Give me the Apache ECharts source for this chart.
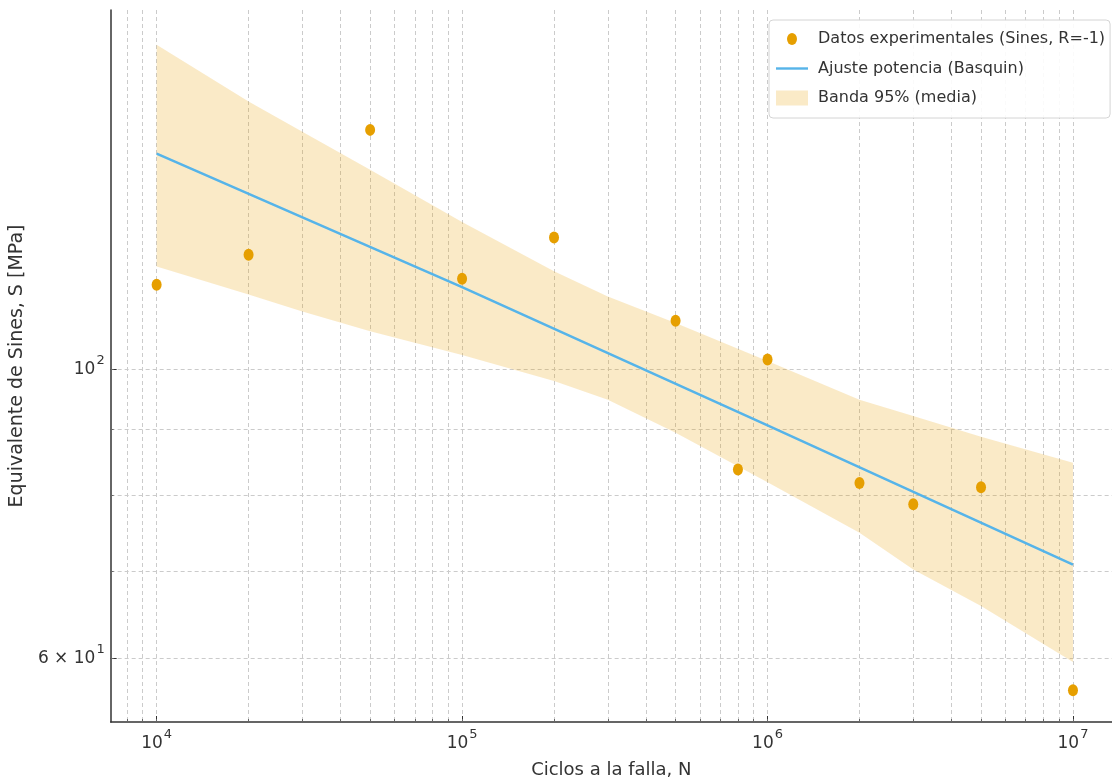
<!DOCTYPE html>
<html>
<head>
<meta charset="utf-8">
<script src="https://cdn.jsdelivr.net/npm/echarts@6/dist/echarts.min.js"></script>
<style>
  html, body { margin: 0; padding: 0; background: #fff; }
  #chart { width: 1112px; height: 784px; }
</style>
</head>
<body>
<div id="chart"></div>
<script>
// datos experimentales: ciclos a la falla N y tension equivalente de Sines S [MPa]
var ciclos = [1e4, 2e4, 5e4, 1e5, 2e5, 5e5, 8e5, 1e6, 2e6, 3e6, 5e6, 1e7];
var tension = [116.2, 122.5, 152.8, 117.4, 126.3, 109.0, 83.8, 101.8, 81.8, 78.8, 81.2, 56.7];

// ajuste potencia (Basquin)
var ajusteN = [1e4, 1e5, 1e6, 1e7];
var ajusteS = [146.5, 115.7, 90.6, 70.8];

// banda 95% de la media
var bandaN = [1e4, 2e4, 3e4, 5e4, 1e5, 2e5, 3e5, 5e5, 1e6, 2e6, 3e6, 5e6, 1e7];
var bandaSup = [177.6, 160.7, 152.3, 142.4, 129.8, 119.0, 113.8, 108.6, 101.5, 94.8, 92.1, 88.8, 84.8];
var bandaInf = [120.0, 114.2, 110.8, 107.0, 102.6, 98.0, 94.8, 89.4, 81.9, 74.9, 70.2, 65.8, 59.6];

// ticks (escala log)
var xMayor = [1e4, 1e5, 1e6, 1e7];
var xMenor = [8e3, 9e3, 2e4, 3e4, 4e4, 5e4, 6e4, 7e4, 8e4, 9e4,
              2e5, 3e5, 4e5, 5e5, 6e5, 7e5, 8e5, 9e5,
              2e6, 3e6, 4e6, 5e6, 6e6, 7e6, 8e6, 9e6];
var yMayor = [60, 100];
var yMenor = [70, 80, 90];
var xRango = [7072, 1.342e7];
var yRango = [53.6, 188.9];

var lg = function (v) { return Math.log10(v); };
var font = 'DejaVu Sans';
var negro = '#333';

// etiqueta tipo matplotlib: 10^k o m x 10^k
function etiquetaPot(v) {
  var e = Math.floor(v + 1e-9);
  var m = Math.round(Math.pow(10, v - e));
  if (m === 1) return '{b|10}{s|' + e + '}';
  return '{b|' + m + ' \u00d7 10}{s|' + e + '}';
}
var richPot = {
  b: { fontSize: 17, lineHeight: 17, color: negro, fontFamily: font, verticalAlign: 'bottom' },
  s: { fontSize: 13, lineHeight: 13, color: negro, fontFamily: font, verticalAlign: 'bottom', padding: [0, 0, 11, 1] }
};
var rejilla = { show: true, lineStyle: { color: '#cbcbcb', width: 1, type: [4, 3] } };

var bandaData = bandaN.map(function (n, i) { return [lg(n), lg(bandaInf[i]), lg(bandaSup[i])]; });

var chart = echarts.init(document.getElementById('chart'));
var option = {
  animation: false,
  textStyle: { fontFamily: font },
  grid: { left: 110, right: 0, top: 10, bottom: 62 },
  legend: {
    orient: 'vertical',
    left: 769,
    top: 20,
    itemWidth: 32,
    itemHeight: 15,
    itemGap: 13.5,
    padding: [11, 5, 12, 7],
    backgroundColor: 'rgba(255,255,255,0.9)',
    borderColor: '#d4d4d4',
    borderWidth: 1,
    borderRadius: 4,
    textStyle: { fontSize: 16, color: negro, fontFamily: font, padding: [0, 0, 0, 5] },
    data: [
      { name: 'Datos experimentales (Sines, R=-1)', icon: 'path://M0,0 M32,15 M11,7.5 A5,6 0 1,1 21,7.5 A5,6 0 1,1 11,7.5 Z' },
      { name: 'Ajuste potencia (Basquin)', icon: 'path://M0,0 M32,15 M0,6.3 L32,6.3 L32,8.7 L0,8.7 Z' },
      { name: 'Banda 95% (media)', icon: 'rect' }
    ]
  },
  xAxis: [{
    type: 'value',
    min: lg(xRango[0]),
    max: lg(xRango[1]),
    name: 'Ciclos a la falla, N',
    nameLocation: 'middle',
    nameGap: 39,
    nameTextStyle: { fontSize: 18, color: negro },
    axisLine: { show: true, onZero: false, lineStyle: { color: negro, width: 1.5 } },
    axisTick: { show: true, inside: true, length: 6, customValues: xMayor.map(lg), lineStyle: { color: negro } },
    axisLabel: { customValues: xMayor.map(lg), formatter: etiquetaPot, rich: richPot, margin: 13 },
    splitLine: { show: false }
  }, {
    type: 'value',
    position: 'bottom',
    min: lg(xRango[0]),
    max: lg(xRango[1]),
    axisLine: { show: false },
    axisTick: { show: true, inside: true, length: 3, customValues: xMenor.concat(xMayor).map(lg), lineStyle: { color: '#666' } },
    axisLabel: { show: false },
    splitLine: rejilla
  }],
  yAxis: [{
    type: 'value',
    min: lg(yRango[0]),
    max: lg(yRango[1]),
    name: 'Equivalente de Sines, S [MPa]',
    nameLocation: 'middle',
    nameGap: 79,
    nameTextStyle: { fontSize: 19, color: negro },
    axisLine: { show: true, onZero: false, lineStyle: { color: negro, width: 1.5 } },
    axisTick: { show: true, inside: true, length: 6, customValues: yMayor.map(lg), lineStyle: { color: negro } },
    axisLabel: { customValues: yMayor.map(lg), formatter: etiquetaPot, rich: richPot, margin: 6 },
    splitLine: { show: false }
  }, {
    type: 'value',
    position: 'left',
    min: lg(yRango[0]),
    max: lg(yRango[1]),
    axisLine: { show: false },
    axisTick: { show: true, inside: true, length: 3, customValues: yMenor.concat(yMayor).map(lg), lineStyle: { color: '#666' } },
    axisLabel: { show: false },
    splitLine: rejilla
  }],
  series: [{
    name: 'Banda 95% (media)',
    type: 'custom',
    xAxisIndex: 0,
    yAxisIndex: 0,
    z: 1,
    itemStyle: { color: 'rgba(230,159,0,0.22)' },
    data: bandaData,
    renderItem: function (params, api) {
      if (params.dataIndex !== 0) return null;
      var pts = [];
      for (var i = 0; i < bandaData.length; i++) pts.push(api.coord([bandaData[i][0], bandaData[i][2]]));
      for (var j = bandaData.length - 1; j >= 0; j--) pts.push(api.coord([bandaData[j][0], bandaData[j][1]]));
      return { type: 'polygon', shape: { points: pts }, style: { fill: 'rgba(230,159,0,0.22)' } };
    }
  }, {
    name: 'Ajuste potencia (Basquin)',
    type: 'line',
    z: 3,
    symbol: 'none',
    color: '#56B4E9',
    lineStyle: { color: '#56B4E9', width: 2.5 },
    data: ajusteN.map(function (n, i) { return [lg(n), lg(ajusteS[i])]; })
  }, {
    name: 'Datos experimentales (Sines, R=-1)',
    type: 'scatter',
    z: 4,
    symbol: 'circle',
    symbolSize: [10, 12],
    itemStyle: { color: '#E69F00', opacity: 1 },
    data: ciclos.map(function (n, i) { return [lg(n), lg(tension[i])]; })
  }]
};
chart.setOption(option);
</script>
</body>
</html>
